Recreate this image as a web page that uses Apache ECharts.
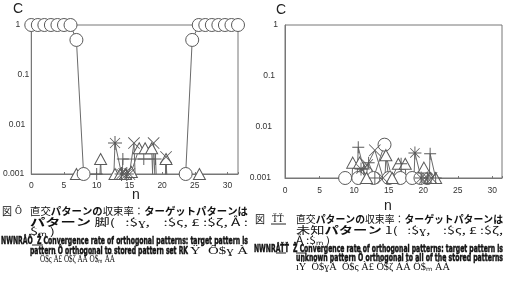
<!DOCTYPE html>
<html><head><meta charset="utf-8">
<script src="https://cdn.jsdelivr.net/npm/echarts@6/dist/echarts.min.js"></script>
<style>html,body{margin:0;padding:0;background:#fff}#c{width:507px;height:305px}</style>
</head><body><div id="c"></div>
<script>
// "Z" stands for a zero value: it falls below the log axis and is clipped away
const Z = 1e-6;
const xTickLabels = ['0','5','10','15','20','25','30'];
const yTickLabels = ['0.001','0.01','0.1','1'];

// ---- left panel ----
const lCircleN = [0,1,2,3,4,5,6,6.9,8,9,22.6,23.6,24.6,25.6,26.6,27.6,28.6,29.6,30.6,31.6];
const lCircleC = [1,1,1,1,1,1,1,0.5,0.001,Z,Z,0.001,0.5,1,1,1,1,1,1,1];
const lTriN = [6.9,7.9,9.6,10.6,11.6,12.8,13.6,14.4,15.3,16.5,17.4,18.4,19.4,19.8,20.6,21.6,24.7,25.7,26.7];
const lTriC = [0.001,Z,Z,0.002,Z,0.001,0.001,0.001,0.0011,0.0033,0.0033,0.0033,Z,Z,0.002,Z,Z,0.001,Z];
const lAstN = [11.8,12.8,13.8,14.6,15.6];
const lAstC = [Z,0.0042,0.001,0.001,Z];
const lCrossN = [13.2,14.2,15.0,15.7,16.7,17.7,18.7,19.7,20.6,21.6];
const lCrossC = [Z,0.001,0.001,0.0042,Z,Z,0.0042,Z,0.0022,Z];
const lPlusN = [10.0,11.0,13.0,14.0,17.2,19.0,20.0];
const lPlusC = [0.001,Z,Z,0.002,0.002,0.002,Z];

// ---- right panel ----
const rCircleN = [7.7,8.7,10.6,12.8,14.4,15.0,16.7,18.4,19.6,20.6,21.6];
const rCircleC = [Z,0.001,0.001,0.001,0.0045,0.001,0.001,0.001,0.001,0.001,Z];
const rTriN = [8.8,9.8,10.8,11.8,13.6,14.6,15.5,16.4,17.4,18.4,19.3,20.1,21.0,21.8];
const rTriC = [Z,0.002,0.002,0.001,Z,0.0028,0.001,0.0019,0.0019,Z,Z,0.0016,0.001,0.001];
const rPlusN = [9.6,10.6,11.4,12.1,13.0,14.0,16.0,16.8,17.8,20.0,21.0,21.8];
const rPlusC = [Z,0.004,0.0015,0.002,0.001,Z,Z,0.0019,Z,Z,0.003,0.001];
const rAstN = [10.0,11.0,12.0,17.8,18.8,19.7,20.6,21.5];
const rAstC = [Z,0.0015,Z,Z,0.0031,0.001,0.001,Z];
const rCrossN = [11.0,11.9,13.0,14.2,15.2,19.2,20.2,21.2,21.9];
const rCrossC = [Z,0.0018,0.0035,0.001,Z,Z,0.001,0.001,Z];

// ---- captions ----
const capL1 = [['直交','n'],['パターンの','b'],['収束率：','n'],['ターゲットパターンは','b']];
const capL2 = [['パターン','b'],[' 脚(   :$ɣ,    :$ς, £ :$ζ, Å :','n']];
const capL3 = [['$ₘ )','n']];
const capL4 = [['NWNRÅÔ  Ž Convergence rate of orthogonal patterns: target pattern is','g']];
const capL5a = [['pattern Ô orthogonal to stored pattern set RK','g']];
const capL5b = [['Ÿ  Ô$ɣ À','s']];
const capL6 = [['Ô$ς À£ Ô$ζ ÀÀ Ô$ₘ ÀÀ','s']];
const capR1 = [['直交','n'],['パターンの','b'],['収束率：','n'],['ターゲットパターンは','b']];
const capR2 = [['未知','n'],['パターン','b'],[' 1(   :$ɣ,    :$ς, £ :$ζ,','n']];
const capR3 = [['Å :$ₘ )','n']];
const capR4 = [['NWNRÅŤŤ  Ž Convergence rate of orthogonal patterns: target pattern is','g']];
const capR5 = [['unknown pattern Ô orthogonal to all of the stored patterns','g']];
const capR6 = [['ıŸ  Ô$ɣÀ  Ô$ς À£ Ô$ζ ÀÀ Ô$ₘ ÀÀ','s']];

const GRAY = '#5a5a5a';
const PLUS = 'path://M0,46 L100,46 L100,54 L0,54 Z M46,0 L54,0 L54,100 L46,100 Z';
const CROSS = 'path://M0,5 L5,0 L100,95 L95,100 Z M95,0 L100,5 L5,100 L0,95 Z';
const AST = 'path://M0,46.5 L100,46.5 L100,53.5 L0,53.5 Z M46.5,0 L53.5,0 L53.5,100 L46.5,100 Z M12,16 L16,12 L88,84 L84,88 Z M84,12 L88,16 L16,88 L12,84 Z';

function mk(xs, ys, sym, size, gi) {
  const isPath = sym.indexOf('path://') === 0;
  return {
    type: 'line', xAxisIndex: gi, yAxisIndex: gi,
    data: xs.map((x, i) => ys[i] <= Z ? {value: [x, ys[i]], symbol: 'none'} : [x, ys[i]]),
    symbol: sym, symbolSize: size, showAllSymbol: true, clip: true,
    lineStyle: {color: '#6a6a6a', width: 1},
    itemStyle: isPath ? {color: GRAY, borderWidth: 0} : {color: '#fff', borderColor: GRAY, borderWidth: 1},
    emphasis: {disabled: true}, animation: false, silent: true
  };
}

function xAx(gi, max, margin) {
  return {
    gridIndex: gi, type: 'value', min: 0, max: max, interval: 5,
    axisLine: {show: true, lineStyle: {color: '#777', width: 1}},
    axisTick: {show: true, inside: true, length: 2, lineStyle: {color: '#777'}},
    splitLine: {show: false},
    axisLabel: {fontSize: 8.5, color: '#333', fontFamily: 'Liberation Sans', margin: margin,
      formatter: v => (Math.abs(v / 5 - Math.round(v / 5)) < 1e-6 ? xTickLabels[Math.round(v / 5)] || '' : '')}
  };
}
function yAx(gi, margin, pads) {
  const rich = {};
  pads.forEach((p, i) => { rich['p' + i] = {fontSize: 8.5, color: '#333', fontFamily: 'Liberation Sans', padding: [0, p, 0, 0]}; });
  return {
    gridIndex: gi, type: 'log', logBase: 10, min: 0.001, max: 1,
    axisLine: {show: true, lineStyle: {color: '#777', width: 1}},
    axisTick: {show: false}, minorTick: {show: false},
    splitLine: {show: false},
    axisLabel: {fontSize: 8.5, color: '#333', fontFamily: 'Liberation Sans', margin: margin, rich: rich,
      formatter: v => { const i = Math.round(Math.log10(v)) + 3; return yTickLabels[i] ? '{p' + i + '|' + yTickLabels[i] + '}' : ''; }}
  };
}

// caption helpers
const STY = {
  n: {fontFamily: '"Noto Sans CJK JP"', fontSize: 10, fontWeight: 'normal'},
  b: {fontFamily: '"Noto Sans CJK JP"', fontSize: 10, fontWeight: 'bold'},
  g: {fontFamily: '"DejaVu Sans"', fontSize: 10, fontWeight: 'bold'},
  s: {fontFamily: '"Liberation Serif"', fontSize: 9.5, fontWeight: 'normal'}
};
const RICH = {};
Object.keys(STY).forEach(k => { RICH[k] = Object.assign({fill: '#111'}, STY[k]); });
RICH.g.stroke = '#111';
RICH.g.lineWidth = 0.5;
const cv = document.createElement('canvas').getContext('2d');
function tw(t, k) { const s = STY[k]; cv.font = s.fontWeight + ' ' + s.fontSize + 'px ' + s.fontFamily; return cv.measureText(t).width; }
function line(segs, x, y, w) {
  let total = 0, text = '';
  segs.forEach(([t, k]) => { total += tw(t, k); text += '{' + k + '|' + t + '}'; });
  return {type: 'text', x: x, y: y, scaleX: w ? w / total : 1, silent: true,
    style: {text: text, rich: RICH, fill: '#111', align: 'left', verticalAlign: 'middle'}};
}
function label(t, x, y, size, family) {
  return {type: 'text', x: x, y: y, silent: true,
    style: {text: t, fontSize: size, fontFamily: family || 'Liberation Sans', fill: '#222', align: 'center', verticalAlign: 'middle'}};
}
function uline(x1, x2, y) {
  return {type: 'line', silent: true, shape: {x1: x1, y1: y, x2: x2, y2: y}, style: {stroke: '#222', lineWidth: 1}};
}

const graphics = [
  label('C', 18, 9, 14), label('n', 136, 195, 14),
  label('C', 281, 10, 14), label('n', 388, 206, 14),
  line([['図', 'n']], 2, 211), line([['Ô', 's']], 15, 211),
  line(capL1, 30, 211, 218), line(capL2, 30, 222, 218), line(capL3, 30, 231, 25),
  line(capL4, 1, 241, 247), line(capL5a, 30, 251, 158), line(capL5b, 190, 251, 58),
  line(capL6, 40, 259, 75),
  uline(32, 43, 245),
  line([['図', 'n']], 255, 219), line([['ŤŤ', 's']], 272, 219),
  line(capR1, 296, 219, 207), line(capR2, 296, 230, 207), line(capR3, 296, 240, 34),
  line(capR4, 254, 249, 249), line(capR5, 296, 258, 207), line(capR6, 296, 267, 154),
  uline(271, 286, 224), uline(276, 286, 253), uline(296, 306, 253)
];

const chart = echarts.init(document.getElementById('c'), null, {renderer: 'canvas'});
chart.setOption({
  animation: false,
  backgroundColor: '#fff',
  grid: [
    {left: 23, top: 25, width: 215, height: 149, show: true, borderColor: '#777', borderWidth: 1, backgroundColor: 'transparent'},
    {left: 285, top: 25, width: 217, height: 153, show: true, borderColor: '#777', borderWidth: 1, backgroundColor: 'transparent'}
  ],
  xAxis: [xAx(0, 31.6, 7), xAx(1, 31.4, 8)],
  yAxis: [yAx(0, 2, [5, 4, 0, 9]), yAx(1, 7, [7, 6, 3, 0])],
  series: [
    mk(lPlusN, lPlusC, PLUS, 12, 0),
    mk(lTriN, lTriC, 'triangle', [12, 11], 0),
    mk(lCrossN, lCrossC, CROSS, 12, 0),
    mk(lAstN, lAstC, AST, 14, 0),
    mk(lCircleN, lCircleC, 'circle', 13, 0),
    mk(rCircleN, rCircleC, 'circle', 13, 1),
    mk(rTriN, rTriC, 'triangle', [12, 11], 1),
    mk(rPlusN, rPlusC, PLUS, 12, 1),
    mk(rAstN, rAstC, AST, 13, 1),
    mk(rCrossN, rCrossC, CROSS, 12, 1)
  ],
  graphic: graphics
});
</script></body></html>
